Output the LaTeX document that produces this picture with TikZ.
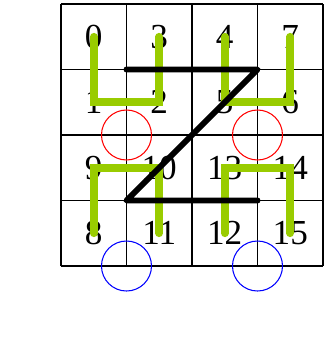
\documentclass[tikz,border=0pt]{standalone}
\usepackage{fontspec}
\setmainfont{Liberation Serif}
\usetikzlibrary{positioning}
\definecolor{curvegreen}{RGB}{153,204,0}

\begin{document}
\begin{tikzpicture}[
    x=1.31cm, y=1.31cm,
    cell/.style={font=\fontsize{20}{24}\selectfont, inner sep=0pt},
    gridline/.style={line width=0.8pt},
    curve/.style={draw=curvegreen, line width=4.4pt, line cap=round},
    zcurve/.style={draw=black, line width=3.4pt, line cap=round,
                   line join=round},
    ring/.style={line width=0.6pt}
  ]
  \useasboundingbox (-0.931,-1.099) rectangle (4.016,4.061);
  \draw[gridline] (0,0) grid[step=1] (4,4);

  % cell numbers: name/column/row, row 0 at the bottom
  \foreach \n/\i/\j in {0/0/3, 3/1/3, 4/2/3, 7/3/3,
                        1/0/2, 2/1/2, 5/2/2, 6/3/2,
                        9/0/1, 10/1/1, 13/2/1, 14/3/1,
                        8/0/0, 11/1/0, 12/2/0, 15/3/0}
    \node[cell] (c\n) at (\i+0.5,\j+0.5) {\n};

  % grid crossings used by the Z and the rings
  \coordinate (z0) at (1,3);
  \coordinate (z1) at (3,3);
  \coordinate (z2) at (1,1);
  \coordinate (z3) at (3,1);
  \coordinate (r0) at (1,2);
  \coordinate (r1) at (3,2);
  \coordinate (b0) at (1,0);
  \coordinate (b1) at (3,0);

  \draw[curve] (c0.center) -- (c1.center) -- (c2.center) -- (c3.center);
  \draw[curve] (c4.center) -- (c5.center) -- (c6.center) -- (c7.center);
  \draw[curve] (c8.center) -- (c9.center) -- (c10.center) -- (c11.center);
  \draw[curve] (c12.center) -- (c13.center) -- (c14.center) -- (c15.center);

  \draw[zcurve] (z0) -- (z1) -- (z2) -- (z3);

  \draw[ring, red] (r0) circle [radius=0.5cm];
  \draw[ring, red] (r1) circle [radius=0.5cm];
  \draw[ring, blue] (b0) circle [radius=0.5cm];
  \draw[ring, blue] (b1) circle [radius=0.5cm];
\end{tikzpicture}
\end{document}
